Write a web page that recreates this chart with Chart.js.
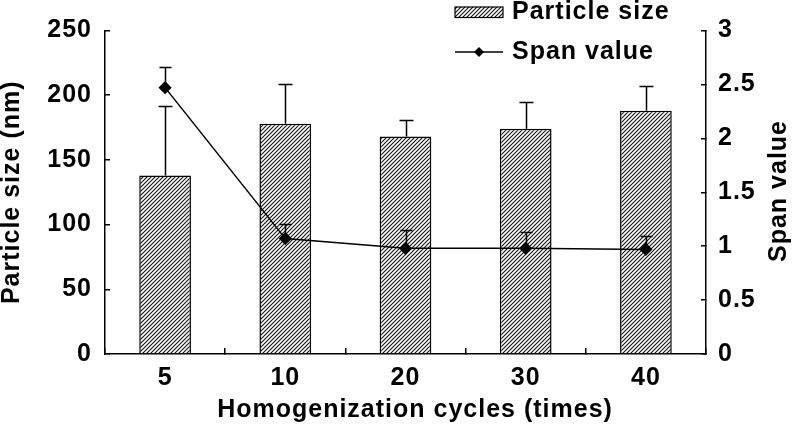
<!DOCTYPE html>
<html>
<head>
<meta charset="utf-8">
<script src="https://cdn.jsdelivr.net/npm/chart.js@4.4.1/dist/chart.umd.min.js"></script>
<style>
  html, body { margin: 0; padding: 0; background: #fff; }
  canvas { display: block; }
</style>
</head>
<body>
<canvas id="chart" width="799" height="433"></canvas>
<script>
const cycles = ['5', '10', '20', '30', '40'];
const particleSize = [138, 178, 168, 174, 188];
const particleErr = [54, 31, 13, 21, 19];
const spanValue = [2.47, 1.07, 0.98, 0.98, 0.97];
const spanErr = [0.19, 0.14, 0.17, 0.15, 0.12];

const ctx = document.getElementById('chart').getContext('2d');
const font = { family: "'Liberation Sans', Arial, sans-serif", size: 25, weight: 'bold', lineHeight: 1 };
const fontStr = "bold 25px 'Liberation Sans', Arial, sans-serif";
const gap = '1px';

// diagonal hatch for the bars
function makeHatch() {
    const c = document.createElement('canvas');
    c.width = 4; c.height = 4;
    const g = c.getContext('2d');
    g.fillStyle = '#fff';
    g.fillRect(0, 0, 4, 4);
    g.strokeStyle = '#111';
    g.lineWidth = 1.1;
    g.beginPath();
    g.moveTo(0, 4); g.lineTo(4, 0);
    g.moveTo(-1, 1); g.lineTo(1, -1);
    g.moveTo(3, 5); g.lineTo(5, 3);
    g.stroke();
    return ctx.createPattern(c, 'repeat');
}
const hatch = makeHatch();

const spacing = {
    id: 'spacing',
    beforeLayout(chart) { chart.ctx.letterSpacing = gap; },
    beforeDraw(chart) { chart.ctx.letterSpacing = gap; }
};

// upper error whiskers only, like the original
const errorBars = {
    id: 'errorBars',
    afterDatasetsDraw(chart) {
        const c = chart.ctx;
        c.save();
        c.strokeStyle = '#000';
        c.lineWidth = 1.5;
        [[0, particleErr, 'y', 7], [1, spanErr, 'y1', 6]].forEach(([di, errs, axis, cap]) => {
            const meta = chart.getDatasetMeta(di);
            const scale = chart.scales[axis];
            const vals = chart.data.datasets[di].data;
            meta.data.forEach((el, i) => {
                const x = Math.round(el.x) + 0.5;
                const y0 = scale.getPixelForValue(vals[i]);
                const y1 = Math.round(scale.getPixelForValue(vals[i] + errs[i])) + 0.5;
                c.beginPath();
                c.moveTo(x, y0);
                c.lineTo(x, y1);
                c.moveTo(x - cap, y1);
                c.lineTo(x + cap, y1);
                c.stroke();
            });
        });
        c.restore();
    }
};

const extras = {
    id: 'extras',
    afterDraw(chart) {
        const c = chart.ctx;
        c.save();
        c.letterSpacing = gap;
        c.font = fontStr;
        c.fillStyle = '#000';
        c.textBaseline = 'alphabetic';
        c.textAlign = 'left';

        // legend
        c.fillStyle = hatch;
        c.fillRect(455, 7, 48, 10.5);
        c.strokeStyle = '#000';
        c.lineWidth = 1.2;
        c.strokeRect(455, 7, 48, 10.5);
        c.fillStyle = '#000';
        c.fillText('Particle size', 512, 19);

        c.lineWidth = 1.5;
        c.beginPath();
        c.moveTo(455, 52);
        c.lineTo(503, 52);
        c.stroke();
        c.beginPath();
        c.moveTo(479, 47); c.lineTo(484, 52); c.lineTo(479, 57); c.lineTo(474, 52);
        c.closePath();
        c.fill();
        c.fillText('Span value', 512, 59);

        // x axis title sits a little right of centre in the original
        c.textAlign = 'center';
        c.textBaseline = 'middle';
        c.fillText('Homogenization cycles (times)', 415, 410);

        // right axis title reads bottom-to-top
        c.translate(779, 191);
        c.rotate(-Math.PI / 2);
        c.fillText('Span value', 0, 0);
        c.restore();
    }
};

const axisGrid = { drawOnChartArea: false, color: '#000', lineWidth: 1.5 };
const axisBorder = { color: '#000', width: 1.5 };

new Chart(ctx, {
    data: {
        labels: cycles,
        datasets: [{
            type: 'bar',
            label: 'Particle size',
            data: particleSize,
            yAxisID: 'y',
            backgroundColor: hatch,
            borderColor: '#000',
            borderWidth: 1.5,
            barPercentage: 0.43,
            categoryPercentage: 1,
            order: 2
        }, {
            type: 'line',
            label: 'Span value',
            data: spanValue,
            yAxisID: 'y1',
            borderColor: '#000',
            borderWidth: 1.5,
            pointStyle: 'rectRot',
            pointRadius: 5.5,
            pointBackgroundColor: '#000',
            pointBorderColor: '#000',
            tension: 0,
            order: 1
        }]
    },
    options: {
        responsive: false,
        animation: false,
        devicePixelRatio: 1,
        layout: { padding: { top: 29, left: 0, right: 0, bottom: 0 } },
        plugins: { legend: { display: false }, tooltip: { enabled: false } },
        scales: {
            x: {
                grid: { ...axisGrid, offset: true, tickLength: -6 },
                border: axisBorder,
                ticks: { color: '#000', font, padding: 18 },
                afterFit(s) { s.height = 79; }
            },
            y: {
                position: 'left',
                min: 0, max: 250,
                grid: { ...axisGrid, tickLength: -5 },
                border: axisBorder,
                ticks: { stepSize: 50, color: '#000', font, padding: 18 },
                title: { display: true, text: 'Particle size (nm)', color: '#000', font, padding: 0 },
                afterFit(s) { s.width = 105; }
            },
            y1: {
                position: 'right',
                min: 0, max: 3,
                grid: { ...axisGrid, tickLength: -5 },
                border: axisBorder,
                ticks: { stepSize: 0.5, color: '#000', font, padding: 17, callback: v => String(v) },
                afterFit(s) { s.width = 93; }
            }
        }
    },
    plugins: [spacing, errorBars, extras]
});
</script>
</body>
</html>
